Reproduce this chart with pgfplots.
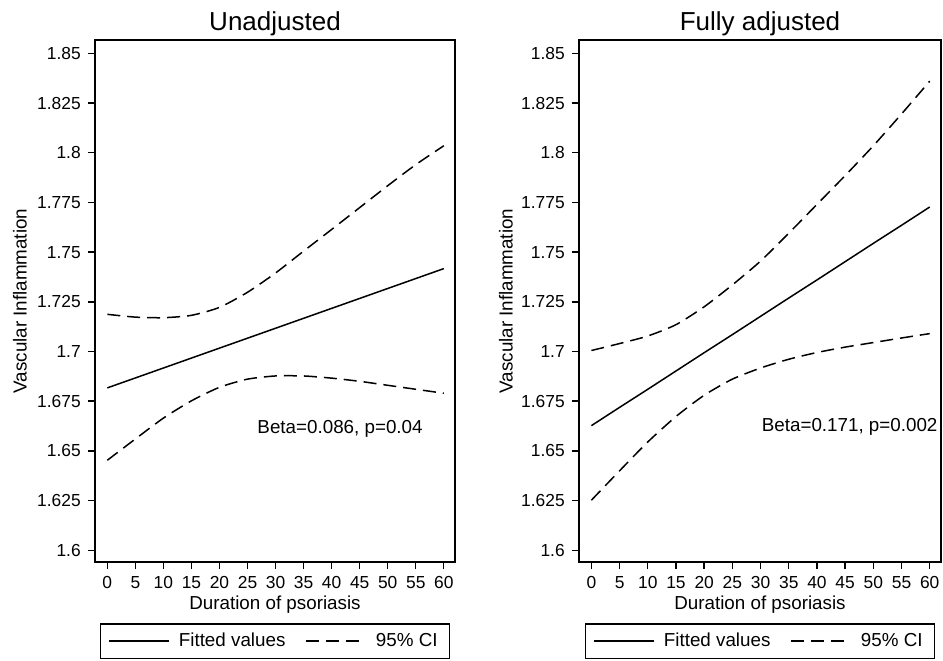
\documentclass[border=0pt]{standalone}
\usepackage{fontspec}
\setmainfont{Liberation Sans}
\usepackage{pgfplots}
\usepackage{pgfplotstable}
\pgfplotsset{compat=1.18}

\pgfplotstableread{
x fit lo hi
0 1.6817 1.6453 1.7187
5 1.6867 1.6560 1.7173
10 1.6917 1.6665 1.7170
15 1.6967 1.6752 1.7182
20 1.7017 1.6820 1.7222
25 1.7067 1.6861 1.7298
30 1.7117 1.6877 1.7395
35 1.7167 1.6877 1.7505
40 1.7217 1.6866 1.7614
45 1.7267 1.6850 1.7724
50 1.7317 1.6830 1.7834
55 1.7367 1.6810 1.7940
60 1.7417 1.6790 1.8035
}\unadj

\pgfplotstableread{
x fit lo hi
0 1.6627 1.6252 1.7005
5 1.6719 1.6400 1.7040
10 1.6810 1.6545 1.7078
15 1.6902 1.6673 1.7135
20 1.6994 1.6780 1.7225
25 1.7085 1.6861 1.7335
30 1.7177 1.6917 1.7455
35 1.7269 1.6961 1.7595
40 1.7360 1.6995 1.7740
45 1.7452 1.7022 1.7885
50 1.7544 1.7045 1.8035
55 1.7635 1.7068 1.8195
60 1.7727 1.7090 1.8360
}\full

\pgfplotsset{
  stata/.style={
    scale only axis,
    clip=false,
    anchor=south west,
    height=261pt,
    xmin=-2.2, xmax=62,
    ymin=1.5941, ymax=1.8567,
    axis line style={line width=0.8pt, black},
    xtick={0,5,...,60},
    xticklabels={0,5,10,15,20,25,30,35,40,45,50,55,60},
    ytick={1.6,1.625,1.65,1.675,1.7,1.725,1.75,1.775,1.8,1.825,1.85},
    yticklabels={1.6,1.625,1.65,1.675,1.7,1.725,1.75,1.775,1.8,1.825,1.85},
    xtick pos=bottom, ytick pos=left,
    tick align=outside,
    major tick length=3.6pt,
    major tick style={line width=0.7pt, black},
    ticklabel style={font=\fontsize{8.7}{10}\selectfont},
    xticklabel style={anchor=base, yshift=-9.5pt},
    xlabel={Duration of psoriasis},
    ylabel={Vascular Inflammation},
    label style={font=\fontsize{9.4}{11}\selectfont},
    xlabel style={at={(axis description cs:0.5,0)}, anchor=base, yshift=-23.7pt},
    legend columns=2,
    legend style={
      at={(axis description cs:0.5,-0.117)}, anchor=north,
      draw=black, line width=0.8pt,
      font=\fontsize{9.4}{11}\selectfont,
      inner xsep=4pt, inner ysep=2.5pt,
      /tikz/every even column/.append style={column sep=8pt},
    },
    legend image code/.code={\draw[#1, line width=0.75pt] (0pt,0pt) -- (30pt,0pt);},
    every axis plot/.append style={line width=0.75pt, black},
  },
  ci/.style={dash pattern=on 6.5pt off 3.5pt},
}

\begin{document}
\begin{tikzpicture}
\useasboundingbox (0,0) rectangle (471.5pt,-330pt);
\begin{axis}[stata, at={(47.5pt,-281pt)}, width=180pt,
  ylabel style={at={(axis description cs:-0.2083,0.5)}, anchor=center}]
\addplot[smooth, tension=0.4] table[x=x, y=fit] {\unadj};
\addlegendentry{\hspace{2.5pt}Fitted values}
\addplot[smooth, tension=0.4, ci] table[x=x, y=hi] {\unadj};
\addlegendentry{\hspace{2.5pt}95\% CI}
\addplot[smooth, tension=0.4, ci, forget plot] table[x=x, y=lo] {\unadj};
\node[font=\fontsize{9.4}{11}\selectfont] at (axis cs:41.5,1.661) {Beta=0.086, p=0.04};
\node[anchor=base, yshift=5pt, font=\fontsize{13}{15}\selectfont] at (rel axis cs:0.5,1) {Unadjusted};
\end{axis}
\begin{axis}[stata, at={(289.5pt,-281pt)}, width=181pt,
  ylabel style={at={(axis description cs:-0.2017,0.5)}, anchor=center}]
\addplot[smooth, tension=0.4] table[x=x, y=fit] {\full};
\addlegendentry{\hspace{2.5pt}Fitted values}
\addplot[smooth, tension=0.4, ci] table[x=x, y=hi] {\full};
\addlegendentry{\hspace{2.5pt}95\% CI}
\addplot[smooth, tension=0.4, ci, forget plot] table[x=x, y=lo] {\full};
\node[font=\fontsize{9.4}{11}\selectfont] at (axis cs:45.8,1.662) {Beta=0.171, p=0.002};
\node[anchor=base, yshift=5pt, font=\fontsize{13}{15}\selectfont] at (rel axis cs:0.5,1) {Fully adjusted};
\end{axis}
\end{tikzpicture}
\end{document}
